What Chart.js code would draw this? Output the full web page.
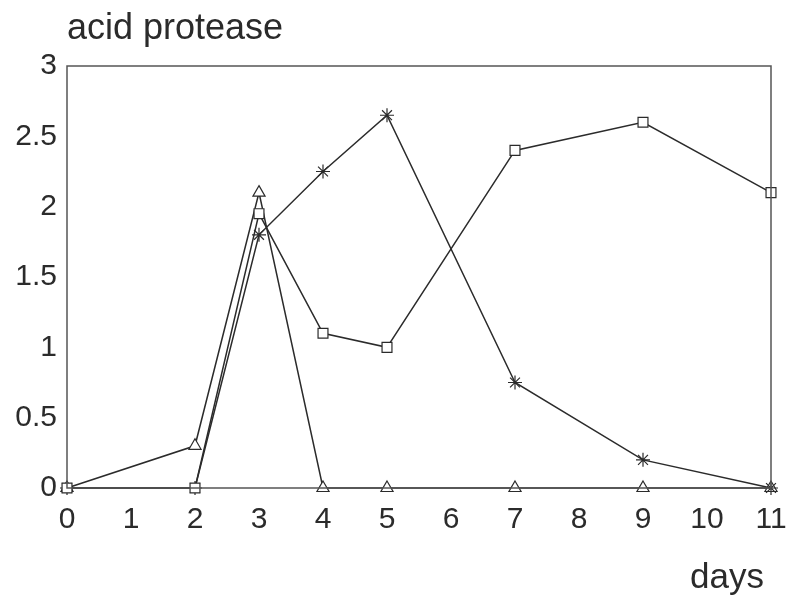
<!DOCTYPE html>
<html>
<head>
<meta charset="utf-8">
<title>acid protease</title>
<script src="https://cdn.jsdelivr.net/npm/chart.js@4/dist/chart.umd.min.js"></script>
<style>
  html, body { margin: 0; padding: 0; background: #fff; }
  #wrap { width: 787px; height: 597px; }
</style>
</head>
<body>
<div id="wrap"><canvas id="proteaseChart" width="787" height="597"></canvas></div>
<script>
// valores
const days = [0, 2, 3, 4, 5, 7, 9, 11];
const squareSeries = [0, 0, 1.95, 1.1, 1.0, 2.4, 2.6, 2.1];
const starSeries = [0, 0, 1.8, 2.25, 2.65, 0.75, 0.2, 0];
const triangleSeries = [0, 0.3, 2.1, 0, 0, 0, 0, 0];
const yTicks = [0, 0.5, 1, 1.5, 2, 2.5, 3];

const ink = '#2b2b2b';
const fontFamily = "'Liberation Sans', Arial, Helvetica, sans-serif";

const toPoints = vals => days.map((d, i) => ({ x: d, y: vals[i] }));

// marco alrededor del area y textos de los ejes
const framePlugin = {
    id: 'frame',
    afterDatasetsDraw(chart) {
        const { ctx, chartArea: a } = chart;
        ctx.save();
        ctx.strokeStyle = '#555';
        ctx.lineWidth = 1.5;
        ctx.strokeRect(a.left, a.top, a.right - a.left, a.bottom - a.top);
        ctx.fillStyle = ink;
        ctx.textBaseline = 'alphabetic';
        ctx.textAlign = 'left';
        ctx.font = '36px ' + fontFamily;
        ctx.fillText('acid protease', 67, 39);
        ctx.font = '35px ' + fontFamily;
        ctx.fillText('days', 690, 588);
        ctx.restore();
    }
};

const lineBase = {
    borderColor: ink,
    borderWidth: 1.5,
    pointBorderColor: ink,
    pointBackgroundColor: '#fff',
    pointBorderWidth: 1.2,
    tension: 0,
    clip: false
};

new Chart(document.getElementById('proteaseChart').getContext('2d'), {
    type: 'line',
    data: {
        datasets: [
            { ...lineBase, label: 'square', data: toPoints(squareSeries), pointStyle: 'rect', pointRadius: 7 },
            { ...lineBase, label: 'star', data: toPoints(starSeries), pointStyle: 'star', pointRadius: 7 },
            { ...lineBase, label: 'triangle', data: toPoints(triangleSeries), pointStyle: 'triangle', pointRadius: 7 }
        ]
    },
    options: {
        responsive: false,
        animation: false,
        layout: { padding: { top: 66, right: 0, left: 0, bottom: 0 } },
        plugins: {
            legend: { display: false },
            tooltip: { enabled: false }
        },
        scales: {
            x: {
                type: 'linear',
                min: 0,
                max: 11,
                grid: { display: false, drawTicks: false },
                border: { display: false },
                afterFit(scale) {
                    scale.height = 109;
                    scale.paddingLeft = 0;
                    scale.paddingRight = 16;
                },
                afterBuildTicks(scale) {
                    scale.ticks = Array.from({ length: 12 }, (_, i) => ({ value: i }));
                },
                ticks: {
                    color: ink,
                    padding: 14,
                    maxRotation: 0,
                    autoSkip: false,
                    font: { family: fontFamily, size: 30 }
                }
            },
            y: {
                min: 0,
                max: 3,
                grid: { display: false, drawTicks: false },
                border: { display: false },
                afterFit(scale) { scale.width = 67; },
                afterBuildTicks(scale) {
                    scale.ticks = yTicks.map(v => ({ value: v }));
                },
                ticks: {
                    color: ink,
                    padding: 10,
                    callback: v => String(v),
                    font: { family: fontFamily, size: 30 }
                }
            }
        }
    },
    plugins: [framePlugin]
});
</script>
</body>
</html>
